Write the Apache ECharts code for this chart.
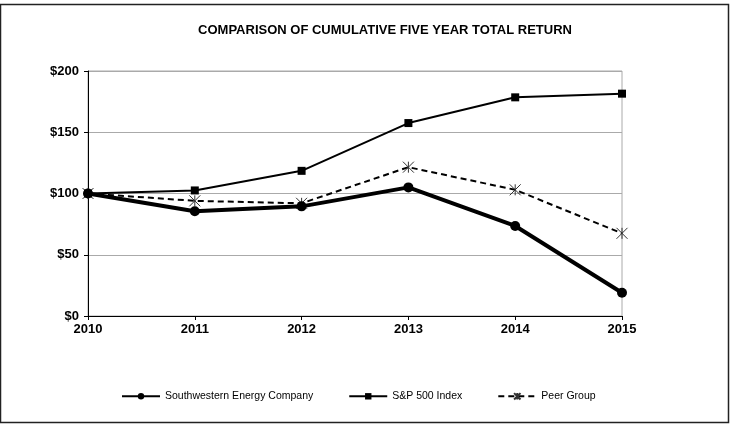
<!DOCTYPE html>
<html>
<head>
<meta charset="utf-8">
<script src="https://cdn.jsdelivr.net/npm/echarts@6/dist/echarts.min.js"></script>
<style>html,body{margin:0;padding:0;background:#fff}#c{width:732px;height:427px}</style>
</head>
<body>
<div id="c"></div>
<script>
var years = ['2010','2011','2012','2013','2014','2015'];
var swn = [100, 85.5, 89.5, 105, 73.5, 19];
var sp500 = [100, 102.5, 118.5, 157.5, 178.5, 181.5];
var peer = [100, 94, 92, 121.5, 103, 67.5];
var yTicks = [0, 50, 100, 150, 200];

var chart = echarts.init(document.getElementById('c'), null, {renderer:'canvas'});
var font = 'Liberation Sans, Arial, sans-serif';
var asterisk = 'path://M0,0L10,10M10,0L0,10M5,0L5,10';
chart.setOption({
  animation: false,
  backgroundColor: '#fff',
  title: {
    text: 'COMPARISON OF CUMULATIVE FIVE YEAR TOTAL RETURN',
    left: 380, top: 19, textAlign: 'center',
    textStyle: {fontFamily: font, fontSize: 13, fontWeight: 'bold', color: '#000'}
  },
  graphic: [{
    type: 'rect', shape: {x: 0.5, y: 4.5, width: 728, height: 418},
    style: {fill: 'none', stroke: '#222', lineWidth: 1.5}, silent: true
  }],
  legend: {
    bottom: 20, left: 116, itemGap: 35, itemWidth: 38, itemHeight: 8,
    textStyle: {fontFamily: font, fontSize: 10.5, color: '#000'},
    data: ['Southwestern Energy Company', 'S&P 500 Index', 'Peer Group']
  },
  grid: {left: 88, right: 110, top: 71, bottom: 111, show: true, borderColor: '#aaa', borderWidth: 1},
  xAxis: {
    type: 'category', data: years, boundaryGap: false,
    axisLine: {lineStyle: {color: '#000', width: 1}},
    axisTick: {show: true, length: 4, lineStyle: {color: '#000'}},
    axisLabel: {fontFamily: font, fontSize: 13, fontWeight: 'bold', color: '#000', margin: 7},
    splitLine: {show: false}
  },
  yAxis: {
    type: 'value', min: yTicks[0], max: yTicks[yTicks.length-1], interval: 50,
    axisLine: {show: true, lineStyle: {color: '#000', width: 1}},
    axisTick: {show: true, length: 4, lineStyle: {color: '#000'}},
    axisLabel: {fontFamily: font, fontSize: 13, fontWeight: 'bold', color: '#000', margin: 9,
      formatter: function(v){ return '$' + v; }},
    splitLine: {lineStyle: {color: '#aaa', width: 1}}
  },
  series: [
    {name: 'Southwestern Energy Company', type: 'line', data: swn, symbol: 'circle', symbolSize: 10,
     lineStyle: {color: '#000', width: 4}, itemStyle: {color: '#000'}, z: 4},
    {name: 'S&P 500 Index', type: 'line', data: sp500, symbol: 'rect', symbolSize: 8,
     lineStyle: {color: '#000', width: 2}, itemStyle: {color: '#000'}, z: 3},
    {name: 'Peer Group', type: 'line', data: peer, symbol: asterisk, symbolSize: 11,
     lineStyle: {color: '#000', width: 2, type: [6, 4]},
     itemStyle: {color: 'none', borderColor: '#333', borderWidth: 1}, z: 2}
  ]
});
</script>
</body>
</html>
